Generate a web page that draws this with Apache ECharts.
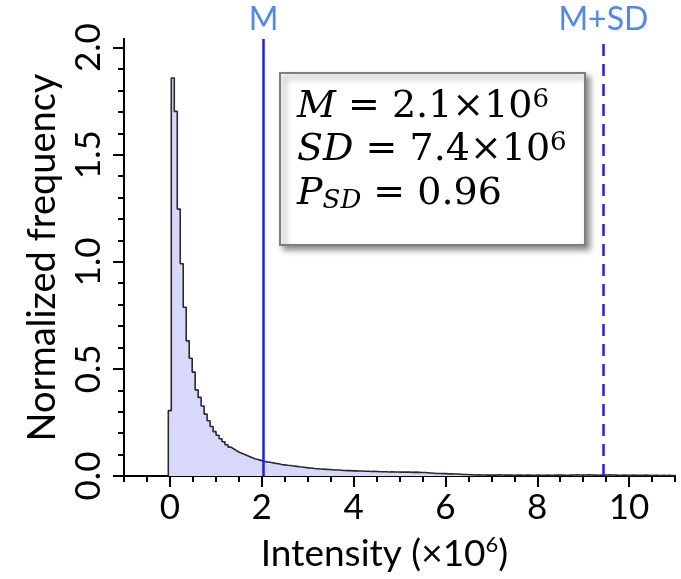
<!DOCTYPE html>
<html><head><meta charset="utf-8">
<script src="https://cdn.jsdelivr.net/npm/echarts@6/dist/echarts.min.js"></script>
<style>html,body{margin:0;padding:0;background:#fff}#c{width:681px;height:579px}</style>
</head><body><div id="c"></div>
<script>
// ---- data ----
const binStart = -0.035;   // left edge of first bin (×10^6)
const binWidth = 0.065;    // bin width (×10^6)
const freq = [
  0.305,1.858,1.702,1.246,0.991,0.788,0.631,0.550,0.485,0.402,
  0.367,0.327,0.289,0.258,0.231,0.207,0.190,0.174,0.160,0.146,
  0.135,0.126,0.117,0.110,0.104,0.098,0.092,0.086,0.081,0.077,
  0.073,0.069,0.066,0.064,0.062,0.059,0.057,0.054,0.052,0.050,
  0.049,0.047,0.045,0.043,0.042,0.040,0.038,0.037,0.035,0.034,
  0.033,0.032,0.031,0.030,0.029,0.028,0.028,0.027,0.026,0.025,
  0.025,0.024,0.024,0.023,0.023,0.022,
  0.022,0.021,0.022,0.021,0.020,0.020,0.020,0.019,0.020,0.019,
  0.019,0.018,0.019,0.018,0.018,0.017,0.018,0.017,0.016,0.016,
  0.015,0.014,0.013,0.012,0.012,0.011,0.011,0.010,0.010,0.009,
  0.009,0.008,0.007,0.007,0.006,0.006,0.005,0.006,0.005,0.005,
  0.004,0.005,0.004,0.004,0.006,0.005,0.004,0.004,0.004,0.003,
  0.004,0.004,0.003,0.004,0.004,0.003,0.003,0.004,0.003,0.003,
  0.004,0.003,0.003,0.004,0.005,0.004,0.003,0.003,0.004,0.005,
  0.006,0.005,0.004,0.005,0.006,0.005,0.004,0.003,0.004,0.004,
  0.005,0.006,0.005,0.004,0.003,0.003,0.004,0.003,0.003,0.004,
  0.003,0.003,0.003,0.004,0.003,0.002,0.003,0.003,0.002,0.003,
  0.002,0.003,0.002,0.002
];
const meanValue = 2.04;        // position of "M" line
const meanPlusSdValue = 9.44;  // position of "M+SD" line
const xMajorTicks = [0, 2, 4, 6, 8, 10];
const xMinorTicks = [-1,-0.5,0,0.5,1,1.5,2,2.5,3,3.5,4,4.5,5,5.5,6,6.5,7,7.5,8,8.5,9,9.5,10,10.5,11];
const yMajorTicks = [0, 0.5, 1.0, 1.5, 2.0];
const yMinorTicks = [0,0.1,0.2,0.3,0.4,0.5,0.6,0.7,0.8,0.9,1.0,1.1,1.2,1.3,1.4,1.5,1.6,1.7,1.8,1.9,2.0];
const xTitle = 'Intensity (×10{sup|6})';
const yTitle = 'Normalized frequency';
const statsLines = [
  '{i|M}{n| = 2.1×10}{sup|6}',
  '{i|SD}{n| = 7.4×10}{sup|6}',
  '{i|P}{sub|SD}{n| = 0.96}'
];

// ---- build step histogram points ----
const histPts = [[binStart, 0]];
freq.forEach((v, i) => histPts.push([binStart + i * binWidth, v]));
const lastEdge = binStart + freq.length * binWidth;
histPts.push([lastEdge, freq[freq.length - 1]]);
histPts.push([lastEdge, 0]);

const FONT = 'Lato';
const axisCol = '#000';
function xAxisBase(extra) {
  return Object.assign({
    type: 'value', min: -1, max: 11, position: 'bottom',
    axisLine: { onZero: false, lineStyle: { color: axisCol, width: 2 } },
    splitLine: { show: false }
  }, extra);
}
function yAxisBase(extra) {
  return Object.assign({
    type: 'value', min: 0, max: 2.04, position: 'left',
    axisLine: { onZero: false, lineStyle: { color: axisCol, width: 2 } },
    splitLine: { show: false }
  }, extra);
}

const chart = echarts.init(document.getElementById('c'), null, { renderer: 'canvas' });
const mathFont = 'DejaVu Serif';
const richStats = {
  i: { fontFamily: mathFont, fontStyle: 'italic', fontSize: 38, lineHeight: 40, color: '#000' },
  n: { fontFamily: mathFont, fontSize: 38, lineHeight: 40, color: '#000' },
  sup: { fontFamily: mathFont, fontSize: 26, lineHeight: 22, verticalAlign: 'top', color: '#000' },
  sub: { fontFamily: mathFont, fontStyle: 'italic', fontSize: 26, lineHeight: 20, verticalAlign: 'bottom', color: '#000' }
};
const statY = [107, 150, 194];

chart.setOption({
  animation: false,
  grid: { left: 124, right: 6, top: 39, bottom: 103 },
  xAxis: [
    xAxisBase({
      axisTick: { customValues: xMinorTicks, length: 6, lineStyle: { color: axisCol, width: 2 } },
      axisLabel: { show: false }
    }),
    xAxisBase({
      axisTick: { customValues: xMajorTicks, length: 11, lineStyle: { color: axisCol, width: 2 } },
      axisLabel: { customValues: xMajorTicks, fontFamily: FONT, fontSize: 35, color: '#000', margin: 14 },
      name: xTitle, nameLocation: 'middle', nameGap: 58,
      nameTextStyle: {
        fontFamily: FONT, fontSize: 37, color: '#000', lineHeight: 40, padding: [0, 30, 0, 0],
        rich: { sup: { fontFamily: FONT, fontSize: 22, lineHeight: 18, verticalAlign: 'top', color: '#000' } }
      }
    })
  ],
  yAxis: [
    yAxisBase({
      axisTick: { customValues: yMinorTicks, length: 6, lineStyle: { color: axisCol, width: 2 } },
      axisLabel: { show: false }
    }),
    yAxisBase({
      axisTick: { customValues: yMajorTicks, length: 11, lineStyle: { color: axisCol, width: 2 } },
      axisLabel: { customValues: yMajorTicks, rotate: 90, fontFamily: FONT, fontSize: 35, color: '#000', margin: 18,
        formatter: v => Number(v).toFixed(1) },
      name: yTitle, nameLocation: 'middle', nameRotate: 90, nameGap: 62,
      nameTextStyle: { fontFamily: FONT, fontSize: 38, color: '#000' }
    })
  ],
  series: [{
    type: 'line', xAxisIndex: 0, yAxisIndex: 0,
    data: histPts, step: 'end', symbol: 'none',
    lineStyle: { color: '#2a2a2a', width: 1.6 },
    areaStyle: { color: '#d8d8fb', opacity: 1 },
    markLine: {
      silent: true, symbol: ['none', 'none'],
      label: { position: 'end', fontFamily: FONT, fontSize: 32, color: '#4f88ee', distance: 3 },
      data: [
        { xAxis: meanValue, lineStyle: { color: '#1c1cff', width: 2.5, type: 'solid' }, label: { formatter: 'M' } },
        { xAxis: meanPlusSdValue, lineStyle: { color: '#1c1cff', width: 2.5, type: [12, 8] }, label: { formatter: 'M+SD' } }
      ]
    }
  }],
  graphic: [
    { type: 'rect', shape: { x: 280, y: 73, width: 305, height: 172 },
      style: { fill: '#fff', stroke: '#7f7f7f', lineWidth: 2,
        shadowBlur: 6, shadowOffsetX: 4, shadowOffsetY: 4, shadowColor: 'rgba(0,0,0,0.45)' }, z: 100 },
    ...statsLines.map((t, k) => ({
      type: 'text', x: 297, y: statY[k], z: 101,
      style: { text: t, rich: richStats, verticalAlign: 'middle', align: 'left' }
    }))
  ]
});
</script></body></html>
